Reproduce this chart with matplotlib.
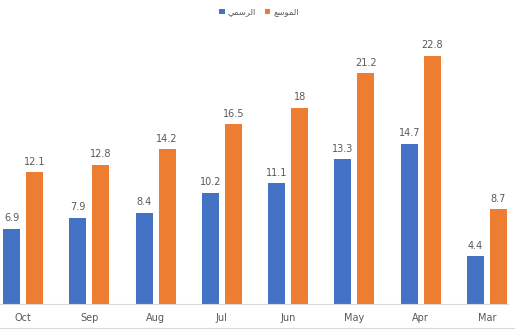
import matplotlib
matplotlib.use("Agg")
import matplotlib.pyplot as plt
from matplotlib.lines import Line2D
import numpy as np

categories = ["Oct", "Sep", "Aug", "Jul", "Jun", "May", "Apr", "Mar"]
official = [6.9, 7.9, 8.4, 10.2, 11.1, 13.3, 14.7, 4.4]
extended = [12.1, 12.8, 14.2, 16.5, 18, 21.2, 22.8, 8.7]
series_names = ["الرسمي", "الموسع"]

# minimal Arabic shaping (matplotlib has no shaping / bidi)
FORMS = {
    "\u0627": ("\uFE8D", "\uFE8E", None, None),
    "\u0644": ("\uFEDD", "\uFEDE", "\uFEDF", "\uFEE0"),
    "\u0631": ("\uFEAD", "\uFEAE", None, None),
    "\u0633": ("\uFEB1", "\uFEB2", "\uFEB3", "\uFEB4"),
    "\u0645": ("\uFEE1", "\uFEE2", "\uFEE3", "\uFEE4"),
    "\u064A": ("\uFEF1", "\uFEF2", "\uFEF3", "\uFEF4"),
    "\u0648": ("\uFEED", "\uFEEE", None, None),
    "\u0639": ("\uFEC9", "\uFECA", "\uFECB", "\uFECC"),
}

def shape(s):
    out = []
    n = len(s)
    for i, ch in enumerate(s):
        f = FORMS.get(ch)
        if f is None:
            out.append(ch)
            continue
        prev = s[i - 1] if i > 0 else None
        nxt = s[i + 1] if i < n - 1 else None
        join_prev = prev in FORMS and FORMS[prev][2] is not None
        join_next = nxt in FORMS and f[2] is not None
        if join_prev and join_next:
            out.append(f[3])
        elif join_prev:
            out.append(f[1])
        elif join_next:
            out.append(f[2])
        else:
            out.append(f[0])
    return "".join(reversed(out))

blue = "#4472C4"
orange = "#ED7D31"
txt = "#595959"

W, H = 515, 332
fig = plt.figure(figsize=(W / 100, H / 100), dpi=100)
ax = fig.add_axes([0 / W, (H - 304) / H, 508 / W, (304 - 30) / H])

x = np.arange(len(categories))
bw = 0.256
off = 0.173
b1 = ax.bar(x - off, official, bw, color=blue, label=shape(series_names[0]))
b2 = ax.bar(x + off, extended, bw, color=orange, label=shape(series_names[1]))

for bars, vals in ((b1, official), (b2, extended)):
    for r, v in zip(bars, vals):
        ax.annotate(f"{v:g}", (r.get_x() + r.get_width() / 2, r.get_height()),
                    xytext=(0, 4), textcoords="offset points", ha="center",
                    va="bottom", fontsize=7, color=txt)

ax.set_xlim(-0.347, 7.317)
ax.set_ylim(0, (304 - 30) / 10.89)
ax.set_xticks(x)
ax.set_xticklabels(categories, fontsize=7, color=txt)
ax.tick_params(axis="x", length=0, pad=6.5)
ax.set_yticks([])
for s in ("top", "right", "left"):
    ax.spines[s].set_visible(False)
ax.spines["bottom"].set_color("#D9D9D9")
ax.spines["bottom"].set_linewidth(0.8)

fig.add_artist(Line2D([0, 1], [(H - 328) / H, (H - 328) / H], color="#D9D9D9", lw=0.8))

leg = fig.legend(loc="center", bbox_to_anchor=(259 / W, (H - 12) / H), ncol=2,
                 frameon=False, handlelength=0.65, handleheight=0.65,
                 handletextpad=0.4, columnspacing=1.0,
                 prop={"family": "DejaVu Sans", "size": 6})
for t in leg.get_texts():
    t.set_color(txt)

fig.savefig("out.png", dpi=100)
